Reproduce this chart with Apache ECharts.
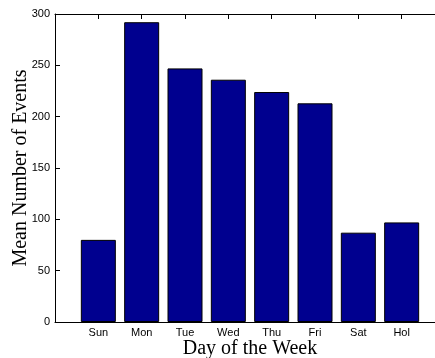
<!DOCTYPE html>
<html>
<head>
<meta charset="utf-8">
<script src="https://cdn.jsdelivr.net/npm/echarts@6/dist/echarts.min.js"></script>
<style>
  html, body { margin: 0; padding: 0; background: #fff; }
  #main { width: 435px; height: 358px; }
</style>
</head>
<body>
<div id="main"></div>
<script>
// Days shown on the x axis (placed at positions 1..8).
let days = ['Sun', 'Mon', 'Tue', 'Wed', 'Thu', 'Fri', 'Sat', 'Hol'];
// Mean number of events per day.
let meanEvents = [80, 292, 247, 236, 224, 213, 87, 97];
// Y axis ticks.
let yMin = 0;
let yMax = 300;
let yStep = 50;

let barData = days.map(function (d, i) {
    return [i + 1, meanEvents[i]];
});

let tickFont = { fontFamily: 'Liberation Sans, Arial, sans-serif', fontSize: 11, color: '#000' };
let labelFont = { fontFamily: 'Liberation Serif, Times New Roman, serif', fontSize: 20, color: '#000' };

let myChart = echarts.init(document.getElementById('main'));
let option = {
    animation: false,
    backgroundColor: '#fff',
    // the plot runs past the right edge (x = 9 is cut off)
    grid: { left: 55, top: 14, width: 390, height: 308, containLabel: false, outerBoundsMode: 'none' },
    xAxis: [
        {
            type: 'value',
            min: 0,
            max: 9,
            interval: 1,
            name: 'Day of the Week',
            nameLocation: 'middle',
            nameGap: 17,
            nameMoveOverlap: false,
            nameTextStyle: labelFont,
            axisLine: { show: true, lineStyle: { color: '#000', width: 1 } },
            axisTick: { show: true, inside: true, length: 5, lineStyle: { color: '#000' } },
            axisLabel: Object.assign({
                margin: 5,
                formatter: function (v) { return days[v - 1] || ''; }
            }, tickFont),
            splitLine: { show: false }
        },
        {
            type: 'value',
            position: 'top',
            min: 0,
            max: 9,
            interval: 1,
            axisLine: { show: true, lineStyle: { color: '#000', width: 1 } },
            axisTick: { show: true, inside: true, length: 5, lineStyle: { color: '#000' } },
            axisLabel: { show: false },
            splitLine: { show: false }
        }
    ],
    yAxis: {
        type: 'value',
        min: yMin,
        max: yMax,
        interval: yStep,
        name: 'Mean Number of Events',
        nameLocation: 'middle',
        nameGap: 24,
        nameMoveOverlap: false,
        nameTextStyle: labelFont,
        axisLine: { show: true, lineStyle: { color: '#000', width: 1 } },
        axisTick: { show: true, inside: true, length: 5, lineStyle: { color: '#000' } },
        axisLabel: Object.assign({ margin: 5 }, tickFont),
        splitLine: { show: false }
    },
    series: [
        {
            type: 'bar',
            xAxisIndex: 0,
            data: barData,
            barWidth: 35,
            itemStyle: { color: '#00008F', borderColor: '#000', borderWidth: 1 }
        }
    ]
};
myChart.setOption(option);
</script>
</body>
</html>
